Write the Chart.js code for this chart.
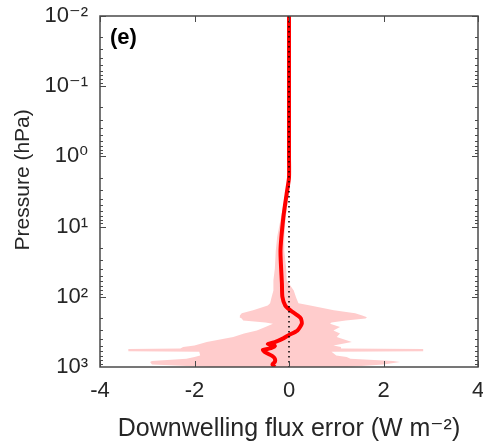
<!DOCTYPE html>
<html>
<head>
<meta charset="utf-8">
<script src="https://cdn.jsdelivr.net/npm/chart.js@4.4.0/dist/chart.umd.min.js"></script>
<style>
    html, body { margin: 0; padding: 0; background: #ffffff; }
</style>
</head>
<body>
<canvas id="graficoFluxo" width="483" height="445"></canvas>
<script>
// pressao (hPa) e erro medio do fluxo descendente (W m-2)
const pressaoMedia = [0.01, 1, 2, 3.4, 7.4, 22, 65, 100, 133, 156, 184, 203, 242, 301, 350, 391, 442, 470, 500, 540, 570, 620, 700, 760, 850, 918, 1000];
const erroMedio = [0, 0, 0, -0.05, -0.12, -0.18, -0.15, -0.14, -0.08, 0.03, 0.18, 0.25, 0.27, 0.18, 0.0, -0.12, -0.3, -0.45, -0.3, -0.38, -0.55, -0.5, -0.35, -0.3, -0.3, -0.35, -0.3];

// faixa de espalhamento (limite inferior e superior)
const pressaoFaixa = [0.01, 1, 2, 3.4, 7.4, 14, 22, 40, 58, 81, 102, 124, 133, 156, 172, 184, 195, 203, 217, 232, 242, 270, 301, 332, 375, 442, 492, 520, 545, 552, 595, 605, 684, 723, 762, 820, 852, 918, 1000];
const limiteInferior = [-0.02, -0.02, -0.03, -0.08, -0.17, -0.25, -0.28, -0.3, -0.33, -0.33, -0.37, -0.4, -0.45, -0.76, -1.0, -1.04, -1.05, -1.0, -0.97, -0.5, -0.34, -0.5, -0.68, -0.95, -1.18, -1.74, -2.0, -2.24, -2.3, -3.4, -3.4, -1.9, -1.88, -2.0, -2.17, -2.9, -2.94, -2.9, -1.67];
const limiteSuperior = [0.02, 0.02, 0.03, 0.0, -0.07, -0.1, -0.1, -0.06, -0.05, 0.1, 0.15, 0.2, 0.45, 0.95, 1.4, 1.55, 1.65, 1.62, 1.2, 0.9, 0.87, 1.08, 0.94, 1.08, 1.01, 1.33, 0.94, 1.1, 1.1, 2.84, 2.84, 0.9, 1.0, 1.22, 1.3, 2.2, 2.35, 2.0, 1.22];

// linha de referencia em zero
const zeroX = [0, 0];
const zeroPressao = [0.01, 1000];

// eixos
const ticksY = [0.01, 0.1, 1, 10, 100, 1000];
const rotulosY = ['10\u207B\u00B2', '10\u207B\u00B9', '10\u2070', '10\u00B9', '10\u00B2', '10\u00B3'];
const ticksX = [-4, -2, 0, 2, 4];

function montarPontos(xs, ps) {
    return xs.map((v, i) => ({ x: v, y: ps[i] }));
}

// marcas internas dos eixos, caixa e rotulo (e)
const marcasInternas = {
    id: 'marcasInternas',
    afterDraw(chart) {
        const ctx = chart.ctx;
        const a = chart.chartArea;
        const sy = chart.scales.y;
        const sx = chart.scales.x;
        ctx.save();
        ctx.strokeStyle = '#4a4a4a';
        ctx.lineWidth = 1;
        ctx.beginPath();
        for (let e = -2; e < 3; e++) {
            for (let m = 1; m < 10; m++) {
                const py = Math.round(sy.getPixelForValue(m * Math.pow(10, e))) + 0.5;
                const len = m == 1 ? 6 : 3;
                ctx.moveTo(a.left, py); ctx.lineTo(a.left + len, py);
                ctx.moveTo(a.right, py); ctx.lineTo(a.right - len, py);
            }
        }
        ticksX.forEach(v => {
            const px = Math.round(sx.getPixelForValue(v)) + 0.5;
            ctx.moveTo(px, a.bottom); ctx.lineTo(px, a.bottom - 6);
            ctx.moveTo(px, a.top); ctx.lineTo(px, a.top + 6);
        });
        ctx.stroke();
        ctx.lineWidth = 1.5;
        ctx.strokeRect(a.left, a.top, a.right - a.left, a.bottom - a.top);
        ctx.fillStyle = '#000000';
        ctx.font = 'bold 22px "Liberation Sans", Arial, sans-serif';
        ctx.textBaseline = 'middle';
        ctx.fillText('(e)', a.left + 10, a.top + 22);
        ctx.restore();
    }
};

const fonteEixo = { family: '"Liberation Sans", Arial, "DejaVu Sans", sans-serif' };

let graficoFluxo = new Chart(document.getElementById('graficoFluxo'), {
    type: 'line',
    data: {
        datasets: [
            {
                label: 'zero',
                data: montarPontos(zeroX, zeroPressao),
                borderColor: '#000000',
                borderWidth: 1.5,
                borderDash: [1.5, 3.5],
                pointRadius: 0,
                fill: false
            },
            {
                label: 'media',
                data: montarPontos(erroMedio, pressaoMedia),
                borderColor: '#ff0000',
                borderWidth: 4,
                pointRadius: 0,
                tension: 0.2,
                fill: false
            },
            {
                label: 'inferior',
                data: montarPontos(limiteInferior, pressaoFaixa),
                borderWidth: 0,
                borderColor: 'rgba(0,0,0,0)',
                pointRadius: 0,
                fill: false
            },
            {
                label: 'superior',
                data: montarPontos(limiteSuperior, pressaoFaixa),
                borderWidth: 0,
                borderColor: 'rgba(0,0,0,0)',
                backgroundColor: '#ffcccc',
                pointRadius: 0,
                fill: '-1'
            }
        ]
    },
    options: {
        indexAxis: 'y',
        responsive: false,
        animation: false,
        devicePixelRatio: 1,
        layout: { padding: { top: 16, right: 5, left: 0, bottom: 0 } },
        plugins: {
            legend: { display: false },
            tooltip: { enabled: false }
        },
        scales: {
            x: {
                type: 'linear',
                min: -4,
                max: 4,
                grid: { display: false, drawTicks: false },
                border: { display: false },
                afterBuildTicks: s => { s.ticks = ticksX.map(v => ({ value: v })); },
                afterFit: s => { s.height = 78; s.paddingLeft = 0; s.paddingRight = 0; },
                ticks: {
                    padding: 11,
                    maxRotation: 0,
                    color: '#262626',
                    font: Object.assign({ size: 22 }, fonteEixo)
                },
                title: {
                    display: true,
                    text: 'Downwelling flux error (W m\u207B\u00B2)',
                    color: '#262626',
                    padding: { top: 0, bottom: 1 },
                    font: Object.assign({ size: 25 }, fonteEixo)
                }
            },
            y: {
                type: 'logarithmic',
                reverse: true,
                min: 0.01,
                max: 1000,
                grid: { display: false, drawTicks: false },
                border: { display: false },
                afterBuildTicks: s => { s.ticks = ticksY.map(v => ({ value: v })); },
                afterFit: s => { s.width = 100; s.paddingTop = 0; s.paddingBottom = 0; },
                ticks: {
                    padding: 12,
                    autoSkip: false,
                    color: '#262626',
                    font: Object.assign({ size: 22 }, fonteEixo),
                    callback: function (valor, indice) {
                        return rotulosY[indice];
                    }
                },
                title: {
                    display: true,
                    text: '    Pressure (hPa)',
                    color: '#262626',
                    padding: { top: 11, bottom: 0 },
                    font: Object.assign({ size: 21 }, fonteEixo)
                }
            }
        }
    },
    plugins: [marcasInternas]
});
</script>
</body>
</html>
